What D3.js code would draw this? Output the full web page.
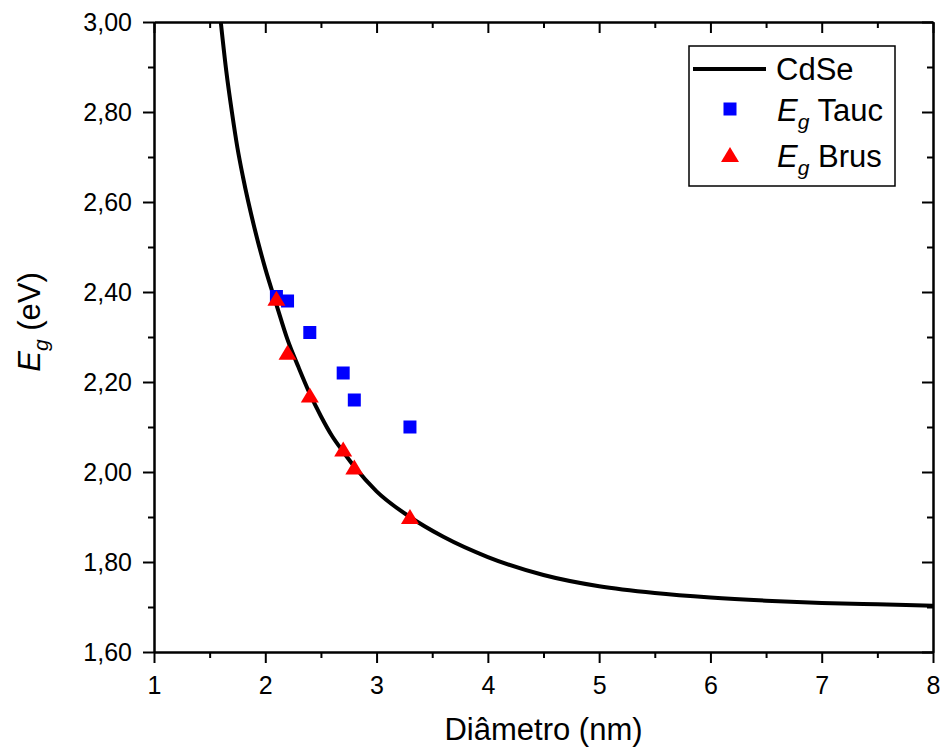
<!DOCTYPE html>
<html>
<head>
<meta charset="utf-8">
<script src="https://cdn.jsdelivr.net/npm/d3@7"></script>
<style>
  body { margin: 0; background: #fff; }
  svg { display: block; font-family: "Liberation Sans", Arial, sans-serif; }
</style>
</head>
<body>
<svg id="chart" width="944" height="748"></svg>
<script>
// ---- Data ----
const curveDiam = [1.60, 1.65, 1.70, 1.75, 1.80, 1.90, 2.00, 2.10, 2.20, 2.30, 2.40, 2.50, 2.60, 2.70, 2.80, 3.00, 3.30, 3.60, 4.00, 4.50, 5.00, 5.50, 6.00, 6.50, 7.00, 7.50, 8.00];
const curveEg   = [3.00, 2.89, 2.80, 2.72, 2.655, 2.545, 2.452, 2.372, 2.294, 2.232, 2.174, 2.124, 2.080, 2.045, 2.012, 1.957, 1.900, 1.856, 1.811, 1.771, 1.746, 1.731, 1.721, 1.714, 1.709, 1.706, 1.703];

const taucDiam = [2.1, 2.2, 2.4, 2.7, 2.8, 3.3];
const taucEg   = [2.39, 2.38, 2.31, 2.22, 2.16, 2.10];

const brusDiam = [2.1, 2.2, 2.4, 2.7, 2.8, 3.3];
const brusEg   = [2.385, 2.265, 2.17, 2.05, 2.01, 1.90];

const xTicks = [1, 2, 3, 4, 5, 6, 7, 8];
const yTicks = [1.6, 1.8, 2.0, 2.2, 2.4, 2.6, 2.8, 3.0];
const xMinor = [1.5, 2.5, 3.5, 4.5, 5.5, 6.5, 7.5];
const yMinor = [1.7, 1.9, 2.1, 2.3, 2.5, 2.7, 2.9];

const legendLabels = ["CdSe", "Tauc", "Brus"];

// ---- Layout ----
const L = 154, R = 933, T = 22, B = 652;
const svg = d3.select("#chart");
const x = d3.scaleLinear().domain([1, 8]).range([L, R]);
const y = d3.scaleLinear().domain([1.6, 3.0]).range([B, T]);
const fmt = d => d3.format(".2f")(d).replace(".", ",");

// clip
svg.append("defs").append("clipPath").attr("id", "clip")
  .append("rect").attr("x", L).attr("y", T).attr("width", R - L).attr("height", B - T);

// curve
const curveData = curveDiam.map((d, i) => [d, curveEg[i]]);
svg.append("path")
  .datum(curveData)
  .attr("clip-path", "url(#clip)")
  .attr("fill", "none")
  .attr("stroke", "#000")
  .attr("stroke-width", 4)
  .attr("d", d3.line().x(d => x(d[0])).y(d => y(d[1])).curve(d3.curveMonotoneX));

// squares
const sq = 13;
svg.append("g").selectAll("rect")
  .data(taucDiam.map((d, i) => [d, taucEg[i]]))
  .join("rect")
  .attr("x", d => x(d[0]) - sq / 2)
  .attr("y", d => y(d[1]) - sq / 2)
  .attr("width", sq).attr("height", sq)
  .attr("fill", "#0000FF");

// triangles
const tri = (cx, cy) => `M${cx},${cy - 8}L${cx + 9},${cy + 7}L${cx - 9},${cy + 7}Z`;
svg.append("g").selectAll("path")
  .data(brusDiam.map((d, i) => [d, brusEg[i]]))
  .join("path")
  .attr("d", d => tri(x(d[0]), y(d[1])))
  .attr("fill", "#FF0000");

// ---- Axes ----
const axisW = 2;
const gBottom = svg.append("g").attr("transform", `translate(0,${B})`)
  .call(d3.axisBottom(x).tickValues(xTicks).tickSize(11).tickSizeOuter(0).tickFormat(d3.format("d")));
gBottom.selectAll(".tick text").attr("font-size", 25).attr("dy", 0).attr("y", 42);
svg.append("g").attr("transform", `translate(0,${B})`)
  .call(d3.axisBottom(x).tickValues(xMinor).tickSize(6).tickSizeOuter(0).tickFormat(""));

svg.append("g").attr("transform", `translate(0,${T})`)
  .call(d3.axisBottom(x).tickValues(xTicks).tickSize(11).tickSizeOuter(0).tickFormat(""));
svg.append("g").attr("transform", `translate(0,${T})`)
  .call(d3.axisBottom(x).tickValues(xMinor).tickSize(6).tickSizeOuter(0).tickFormat(""));

const gLeft = svg.append("g").attr("transform", `translate(${L},0)`)
  .call(d3.axisLeft(y).tickValues(yTicks).tickSize(11).tickSizeOuter(0).tickFormat(fmt));
gLeft.selectAll(".tick text").attr("font-size", 25).attr("x", -22).attr("dy", "0.34em");
svg.append("g").attr("transform", `translate(${L},0)`)
  .call(d3.axisLeft(y).tickValues(yMinor).tickSize(6).tickSizeOuter(0).tickFormat(""));

svg.append("g").attr("transform", `translate(${R},0)`)
  .call(d3.axisLeft(y).tickValues(yTicks).tickSize(11).tickSizeOuter(0).tickFormat(""));
svg.append("g").attr("transform", `translate(${R},0)`)
  .call(d3.axisLeft(y).tickValues(yMinor).tickSize(6).tickSizeOuter(0).tickFormat(""));

svg.selectAll(".domain").attr("stroke-width", axisW).attr("stroke", "#000");
svg.selectAll(".tick line").attr("stroke-width", axisW).attr("stroke", "#000");
svg.selectAll(".tick text").attr("fill", "#000").attr("font-family", "'Liberation Sans', Arial, sans-serif");

// ---- Axis titles ----
svg.append("text")
  .attr("x", (L + R) / 2).attr("y", 740)
  .attr("text-anchor", "middle").attr("font-size", 31)
  .text("Diâmetro (nm)");

const yl = svg.append("text")
  .attr("transform", "translate(40,322) rotate(-90)")
  .attr("text-anchor", "middle").attr("font-size", 31);
yl.append("tspan").attr("font-style", "italic").text("E");
yl.append("tspan").attr("font-style", "italic").attr("font-size", 21).attr("dy", 8).text("g");
yl.append("tspan").attr("dy", -8).text(" (eV)");

// ---- Legend ----
const lg = svg.append("g");
lg.append("rect").attr("x", 689).attr("y", 46).attr("width", 206).attr("height", 140)
  .attr("fill", "#fff").attr("stroke", "#000").attr("stroke-width", 1.5);
lg.append("line").attr("x1", 693).attr("x2", 766).attr("y1", 69).attr("y2", 69)
  .attr("stroke", "#000").attr("stroke-width", 4);
lg.append("text").attr("x", 776).attr("y", 80).attr("font-size", 31).text(legendLabels[0]);

lg.append("rect").attr("x", 730 - sq / 2).attr("y", 109 - sq / 2).attr("width", sq).attr("height", sq).attr("fill", "#0000FF");
const t2 = lg.append("text").attr("x", 777).attr("y", 121).attr("font-size", 31);
t2.append("tspan").attr("font-style", "italic").text("E");
t2.append("tspan").attr("font-style", "italic").attr("font-size", 21).attr("dy", 8).text("g");
t2.append("tspan").attr("dy", -8).text(" " + legendLabels[1]);

lg.append("path").attr("d", tri(730, 155)).attr("fill", "#FF0000");
const t3 = lg.append("text").attr("x", 777).attr("y", 167).attr("font-size", 31);
t3.append("tspan").attr("font-style", "italic").text("E");
t3.append("tspan").attr("font-style", "italic").attr("font-size", 21).attr("dy", 8).text("g");
t3.append("tspan").attr("dy", -8).text(" " + legendLabels[2]);
</script>
</body>
</html>
